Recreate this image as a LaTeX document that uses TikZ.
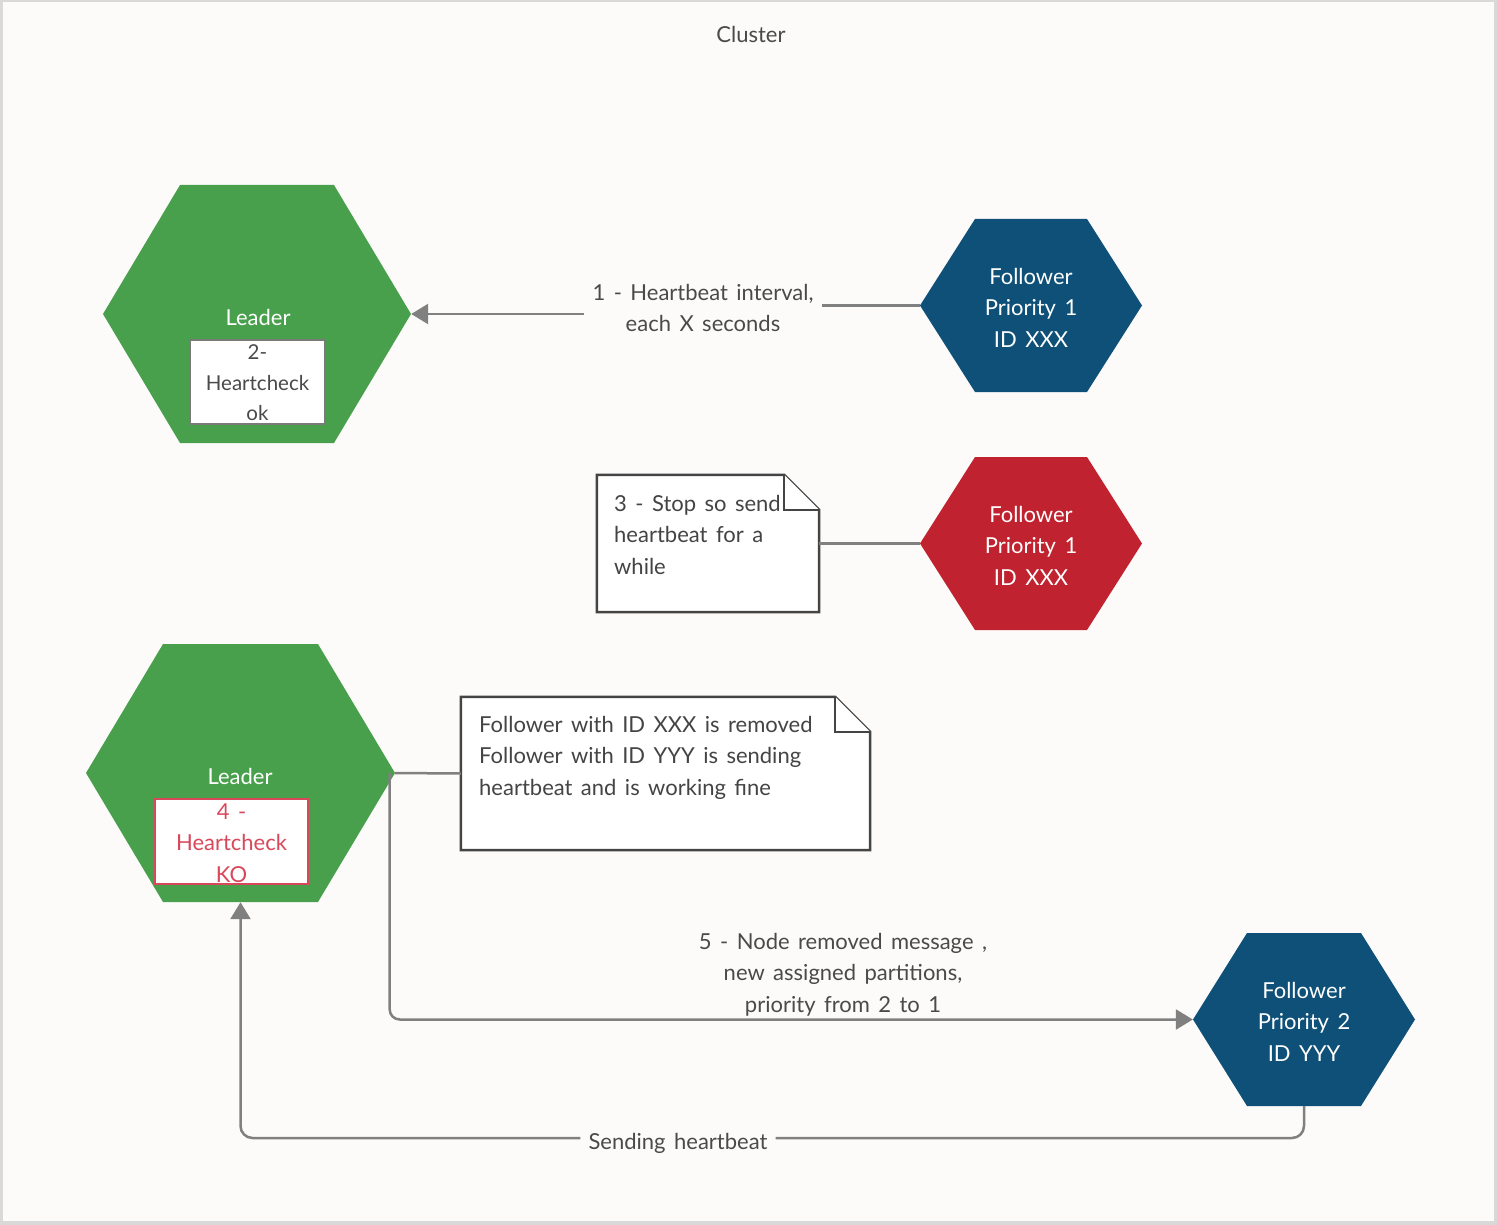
\documentclass[tikz,border=0pt]{standalone}
\usepackage{fontspec}
\setmainfont{Lato}[WordSpace=1.5]
\usetikzlibrary{arrows.meta}
\definecolor{bgc}{HTML}{FCFBFA}
\definecolor{framec}{HTML}{D9D9D9}
\definecolor{leafgreen}{HTML}{48A04C}
\definecolor{navy}{HTML}{0E5077}
\definecolor{crimson}{HTML}{C0232F}
\definecolor{linegray}{HTML}{808080}
\definecolor{txtgray}{HTML}{4A4A4A}
\definecolor{koRed}{HTML}{D9485A}
\definecolor{boxgray}{HTML}{7A7A7A}
\definecolor{notegray}{HTML}{444444}
% #1 cx, #2 cy, #3 half width, #4 half height, #5 inset, #6 colour
\newcommand\hexfill[6]{%
  \fill[#6] ({#1-#3},#2) -- ({#1-#3+#5},{#2-#4}) -- ({#1+#3-#5},{#2-#4}) -- ({#1+#3},#2)
    -- ({#1+#3-#5},{#2+#4}) -- ({#1-#3+#5},{#2+#4}) -- cycle;}
\newcommand\noteoutline[2]{%
  \filldraw[noteline] (#1.north west) -- ([xshift=-#2]#1.north east) -- ([yshift=-#2]#1.north east)
    -- (#1.south east) -- (#1.south west) -- cycle;
  \draw[noteline] ([xshift=-#2]#1.north east) -- ([xshift=-#2,yshift=-#2]#1.north east) -- ([yshift=-#2]#1.north east);}
\begin{document}
\begin{tikzpicture}[x=1pt,y=-1pt,
  font=\fontsize{22}{31.5}\selectfont,
  hexbig/.style={minimum width=308, minimum height=258, inner sep=0},
  hexsmall/.style={minimum width=222, minimum height=173, inner sep=0},
  hextxt/.style={text=white, align=center, inner sep=0},
  okbox/.style={draw=boxgray, fill=white, line width=2.5, inner sep=0},
  boxtxt/.style={align=center, inner sep=0},
  notebody/.style={inner sep=0},
  noteline/.style={draw=notegray, fill=white, line width=2.5},
  notetxt/.style={align=left, inner sep=0, text=notegray},
  lbl/.style={text=txtgray, align=center, inner xsep=8, inner ysep=2},
  conn/.style={draw=linegray, line width=2.5},
  arrowtip/.style={-{Triangle[length=17,width=20]}}
]
\useasboundingbox (0,0) rectangle (1497,1225);
\fill[framec] (0,0) rectangle (1497,1225);
\fill[bgc] (3,2) rectangle (1494,1221);

\node[text=txtgray] (cluster) at (751,34) {Cluster};

% Leader 1
\hexfill{257}{314}{154}{129}{77}{leafgreen}
\node[hexbig] (L1) at (257,314) {};
\node[hextxt] (L1t) at (258,317) {Leader};
\node[okbox, minimum width=135, minimum height=84] (B1) at (257.5,382) {};
\node[boxtxt, text=txtgray, font=\fontsize{20.5}{30.5}\selectfont] (B1t) at (257.5,383) {2-\\Heartcheck\\ok};

% Follower 1 (blue)
\hexfill{1031}{305.5}{111}{86.5}{55}{navy}
\node[hexsmall] (F1) at (1031,305.5) {};
\node[hextxt] (F1t) at (1031,307.5) {Follower\\Priority 1\\ID XXX};

% Follower 1 (red)
\hexfill{1031}{543.5}{111}{86.5}{55}{crimson}
\node[hexsmall] (FR) at (1031,543.5) {};
\node[hextxt] (FRt) at (1031,545.5) {Follower\\Priority 1\\ID XXX};

% Leader 2
\hexfill{240.5}{773}{154.5}{129}{77}{leafgreen}
\node[hexbig] (L2) at (240.5,773) {};
\node[hextxt] (L2t) at (240,776) {Leader};
\node[okbox, draw=koRed, minimum width=153, minimum height=85] (B2) at (231.5,841.5) {};
\node[boxtxt, text=koRed] (B2t) at (231.5,843) {4 -\\Heartcheck\\KO};

% Follower 2
\hexfill{1304}{1019.5}{111}{86.5}{54}{navy}
\node[hexsmall] (FY) at (1304,1019.5) {};
\node[hextxt] (FYt) at (1304,1021.5) {Follower\\Priority 2\\ID YYY};

% Note 3
\node[notebody, minimum width=222, minimum height=137] (N1) at (708,543.5) {};
\noteoutline{N1}{35}
\node[notetxt, anchor=north west] (N1t) at (614,495) {3 - Stop so send\\heartbeat for a\\while};

% Note (removed)
\node[notebody, minimum width=409, minimum height=153] (N2) at (665.5,773.5) {};
\noteoutline{N2}{35}
\node[notetxt, anchor=north west] (N2t) at (479,716) {Follower with ID XXX is removed\\Follower with ID YYY is sending\\heartbeat and is working fine};

% Connectors
\node[lbl] (lab1) at (703,308) {1 - Heartbeat interval,\\each X seconds};
\draw[conn] (F1.west) -- (lab1.east |- F1.west);
\draw[conn, arrowtip] (lab1.west |- L1.east) -- (L1.east);

\draw[conn] (N1.east) -- (FR.west);
\draw[conn] (L2.east) -- (N2.west);

\node[lbl] (lab5) at (843,974.5) {5 - Node removed message ,\\new assigned partitions,\\priority from 2 to 1};
\draw[conn, arrowtip, rounded corners=10] ([xshift=-5]L2.east) |- (FY.west);

\node[lbl] (lab6) at (678,1143) {Sending heartbeat};
\draw[conn, rounded corners=12] (FY.south) |- ([yshift=5]lab6.east);
\draw[conn, arrowtip, rounded corners=12] ([yshift=5]lab6.west) -| (L2.south);
\end{tikzpicture}
\end{document}
